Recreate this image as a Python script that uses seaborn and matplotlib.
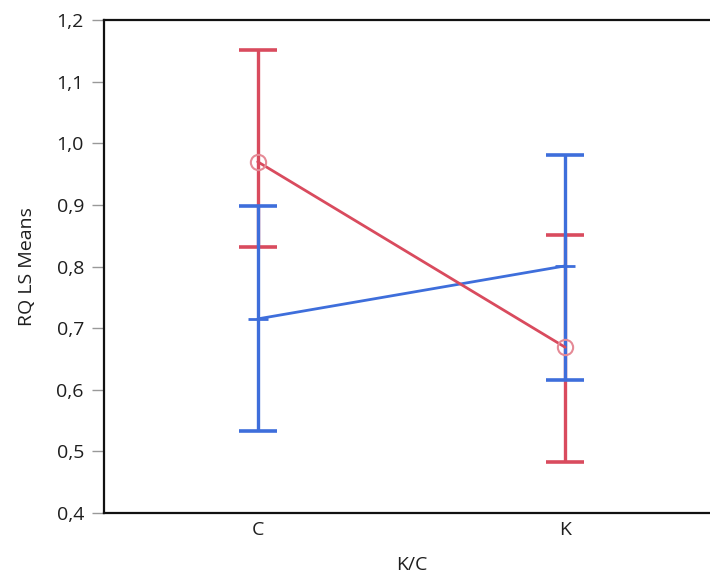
import matplotlib
matplotlib.use("Agg")
import matplotlib.pyplot as plt
import matplotlib.ticker as mticker
import numpy as np
import pandas as pd
import seaborn as sns

# Least-squares means of RQ with confidence limits, by K/C level and group
levels = ["C", "K"]
groups = ["A", "B"]
red_mean = [0.970, 0.669]
red_lower = [0.831, 0.482]
red_upper = [1.151, 0.851]
blue_mean = [0.715, 0.801]
blue_lower = [0.533, 0.616]
blue_upper = [0.898, 0.981]
yticks = [0.4, 0.5, 0.6, 0.7, 0.8, 0.9, 1.0, 1.1, 1.2]

RED = "#D94B5E"
BLUE = "#3E6EDB"
TEXT = "#1E1E1E"
FS = 14

df = pd.DataFrame({
    "K/C": levels * 2,
    "grp": [groups[0]] * 2 + [groups[1]] * 2,
    "RQ LS Means": red_mean + blue_mean,
    "lo": red_lower + blue_lower,
    "hi": red_upper + blue_upper,
})

sns.set_theme(style="white")
plt.rcParams["font.family"] = ["Open Sans", "DejaVu Sans"]

fig = plt.figure(figsize=(7.1, 5.77), dpi=100)
ax = fig.add_axes([0.1465, 0.1109, 0.866, 0.8544])

sns.pointplot(
    data=df, x="K/C", y="RQ LS Means", hue="grp", order=levels,
    hue_order=groups, palette={groups[0]: RED, groups[1]: BLUE},
    errorbar=None, markers=["o", "_"], linestyles=["-", "-"],
    dodge=False, legend=False, ax=ax,
)

# style the mean lines / markers
for ln in ax.lines:
    ln.set_linewidth(2.0)
    if ln.get_marker() == "o":
        ln.set_markerfacecolor("none")
        ln.set_markeredgecolor("#E58A96")
        ln.set_markersize(11)
        ln.set_markeredgewidth(1.5)
        ln.set_zorder(4)
    else:
        ln.set_markersize(14)
        ln.set_markeredgewidth(2.0)
        ln.set_zorder(3)

# confidence-limit bars, drawn at the categorical positions
xpos = np.arange(len(levels))
for g, col, z in [(groups[0], RED, 2), (groups[1], BLUE, 3)]:
    sub = df[df["grp"] == g]
    m = sub["RQ LS Means"].to_numpy()
    yerr = np.vstack([m - sub["lo"].to_numpy(), sub["hi"].to_numpy() - m])
    ax.errorbar(xpos, m, yerr=yerr, fmt="none", ecolor=col, elinewidth=2.4,
                capsize=13.5, capthick=2.6, zorder=z)

ax.set_xlim(-0.5, 1.5)
ax.set_ylim(0.4, 1.2)
ax.set_yticks(yticks)
ax.yaxis.set_major_formatter(mticker.FuncFormatter(lambda v, p: f"{v:.1f}".replace(".", ",")))

for side in ["left", "top", "bottom"]:
    ax.spines[side].set_color("#111111")
    ax.spines[side].set_linewidth(1.6)
ax.spines["right"].set_visible(False)

ax.tick_params(axis="y", left=True, length=8.5, width=1, color="#999999",
               pad=6, labelsize=FS, labelcolor=TEXT)
ax.tick_params(axis="x", bottom=False, length=0, pad=6, labelsize=FS,
               labelcolor=TEXT)
ax.set_xlabel("K/C", fontsize=FS, color=TEXT, labelpad=12)
ax.set_ylabel("RQ LS Means", fontsize=FS, color=TEXT, labelpad=15)

fig.savefig("out.png", dpi=100)
